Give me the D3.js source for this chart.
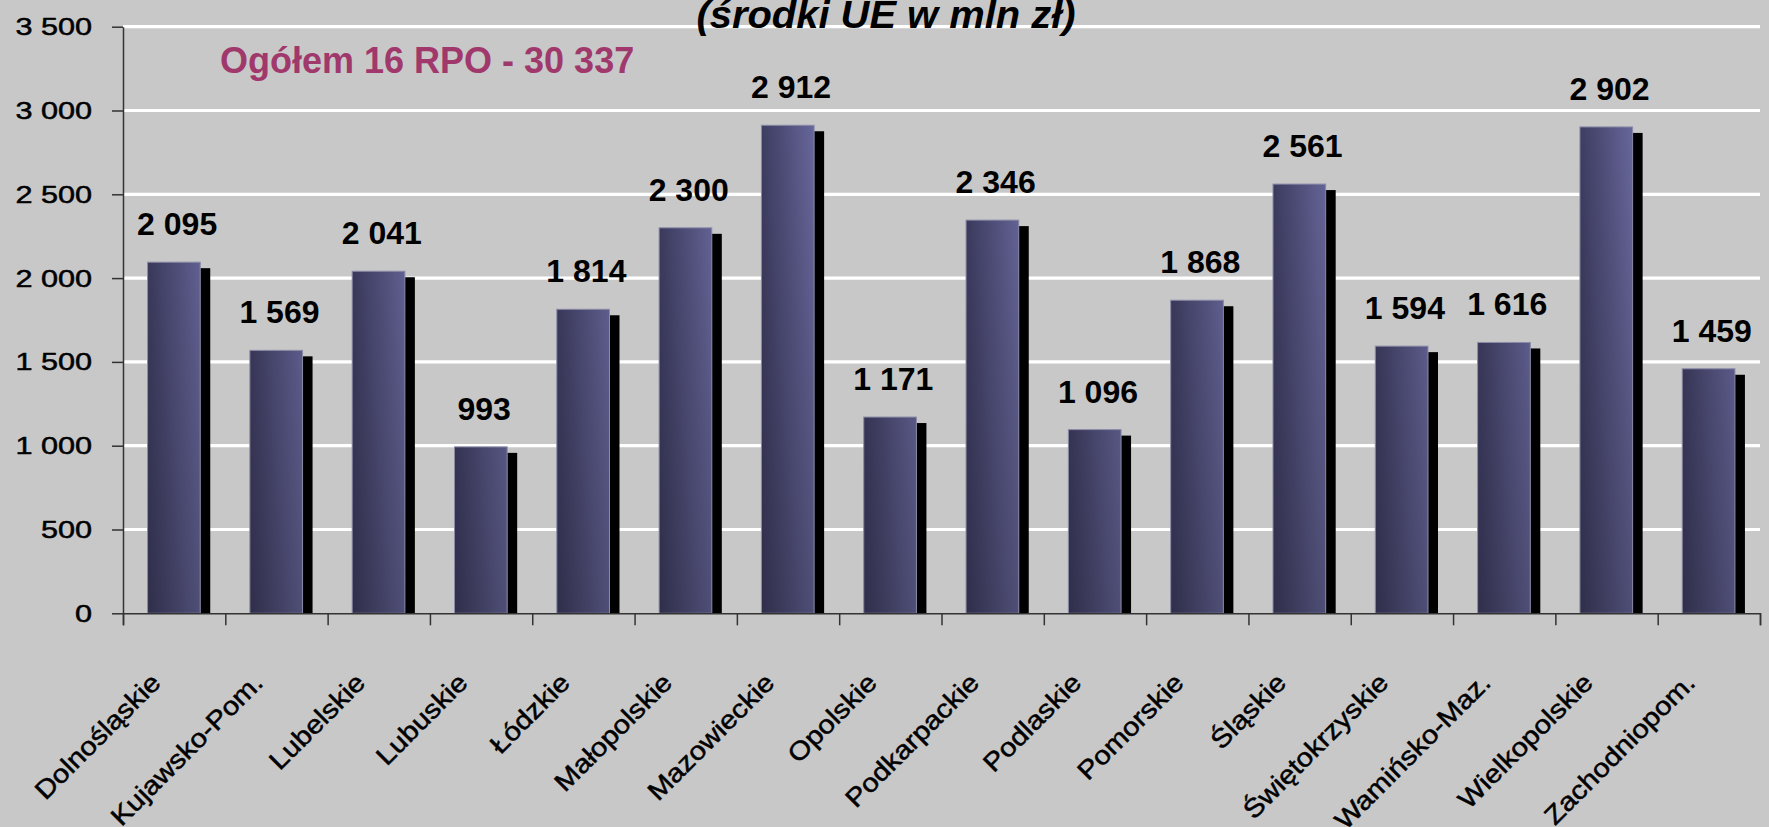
<!DOCTYPE html>
<html lang="pl">
<head>
    <meta charset="utf-8">
    <title>RPO - środki UE</title>
    <style>
        body {
            margin: 0;
            background-color: #c8c8c8;
            font-family: "Liberation Sans", Arial, sans-serif;
        }
        .chart {
            display: block;
        }
    </style>
</head>
<body>
<svg class="chart"></svg>
<script src="https://d3js.org/d3.v7.min.js"></script>
<script>
    // regions (labels as on the original slide) and EU funds in mln zł
    const regions = ["Dolnośląskie", "Kujawsko-Pom.", "Lubelskie", "Lubuskie", "Łódzkie", "Małopolskie",
        "Mazowieckie", "Opolskie", "Podkarpackie", "Podlaskie", "Pomorskie", "Śląskie",
        "Świętokrzyskie", "Wamińsko-Maz.", "Wielkopolskie", "Zachodniopom."];
    const funds = [2095, 1569, 2041, 993, 1814, 2300, 2912, 1171, 2346, 1096, 1868, 2561, 1594, 1616, 2902, 1459];
    const yTicks = [0, 500, 1000, 1500, 2000, 2500, 3000, 3500];
    const title = "(środki UE w mln zł)";
    const totalNote = "Ogółem 16 RPO - 30 337";

    const chartWidth = 1769;
    const chartHeight = 827;
    const plotLeft = 123;
    const plotRight = 1760;
    const plotTop = 26.7;
    const plotBottom = 613.3;

    const pl = d3.formatLocale({decimal: ",", thousands: " ", grouping: [3], currency: ["", " zł"]});
    const fmt = pl.format(",d");

    const svg = d3.select(".chart")
        .attr("width", chartWidth)
        .attr("height", chartHeight);

    const defs = svg.append("defs");
    const hGrad = defs.append("linearGradient")
        .attr("id", "barH")
        .attr("x1", 0).attr("y1", 0).attr("x2", 1).attr("y2", 0);
    hGrad.append("stop").attr("offset", "0%").attr("stop-color", "#403f65");
    hGrad.append("stop").attr("offset", "100%").attr("stop-color", "#6c6ba2");

    const vGrad = defs.append("linearGradient")
        .attr("id", "barV")
        .attr("gradientUnits", "userSpaceOnUse")
        .attr("x1", 0).attr("y1", plotTop).attr("x2", 0).attr("y2", plotBottom);
    vGrad.append("stop").attr("offset", "0%").attr("stop-color", "#000").attr("stop-opacity", 0);
    vGrad.append("stop").attr("offset", "100%").attr("stop-color", "#000").attr("stop-opacity", 0.27);

    const x = d3.scaleBand()
        .domain(regions)
        .range([plotLeft, plotRight]);
    const xEdge = d3.scaleLinear()
        .domain([0, regions.length])
        .range([plotLeft, plotRight]);
    const y = d3.scaleLinear()
        .domain([0, 3500])
        .range([plotBottom, plotTop]);

    const bw = x.bandwidth();
    const barOff = bw * 0.24;
    const barW = bw * 0.515;
    const shadowW = 11;
    const shadowDy = 6;

    // white gridlines
    svg.append("g")
        .selectAll("line")
        .data(yTicks.filter(function(d) { return d > 0; }))
        .enter().append("line")
        .attr("x1", plotLeft)
        .attr("x2", plotRight)
        .attr("y1", function(d) { return y(d); })
        .attr("y2", function(d) { return y(d); })
        .style("stroke", "#ffffff")
        .style("stroke-width", 3.2);

    const bar = svg.selectAll(".bar")
        .data(regions)
        .enter().append("g")
        .attr("class", "bar");

    // black shadow behind each bar
    bar.append("rect")
        .attr("x", function(d) { return x(d) + barOff + barW - 1; })
        .attr("y", function(d, i) { return y(funds[i]) + shadowDy; })
        .attr("width", shadowW)
        .attr("height", function(d, i) { return plotBottom - y(funds[i]) - shadowDy; })
        .style("fill", "#000");

    bar.append("rect")
        .attr("x", function(d) { return x(d) + barOff; })
        .attr("y", function(d, i) { return y(funds[i]); })
        .attr("width", barW)
        .attr("height", function(d, i) { return plotBottom - y(funds[i]); })
        .style("fill", "url(#barH)");

    bar.append("rect")
        .attr("x", function(d) { return x(d) + barOff; })
        .attr("y", function(d, i) { return y(funds[i]); })
        .attr("width", barW)
        .attr("height", function(d, i) { return plotBottom - y(funds[i]); })
        .style("fill", "url(#barV)")
        .style("stroke", "#8c8ca8")
        .style("stroke-width", 1);

    bar.append("text")
        .attr("x", function(d) { return x(d) + bw / 2 + 3; })
        .attr("y", function(d, i) { return y(funds[i]) - 27; })
        .attr("text-anchor", "middle")
        .style("font-size", "32px")
        .style("font-weight", "bold")
        .style("fill", "#000")
        .text(function(d, i) { return fmt(funds[i]); });

    // y axis
    const yAxis = svg.append("g")
        .attr("transform", "translate(" + plotLeft + ",0)")
        .call(d3.axisLeft(y).tickValues(yTicks).tickSize(11).tickSizeOuter(0).tickFormat(""));
    yAxis.selectAll("path, line").style("stroke", "#333").style("stroke-width", 1.5);

    svg.append("g")
        .selectAll("text")
        .data(yTicks)
        .enter().append("text")
        .attr("transform", function(d) { return "translate(92," + y(d) + ") scale(1.25,1)"; })
        .attr("dy", "0.35em")
        .attr("text-anchor", "end")
        .style("font-size", "24.5px")
        .style("fill", "#000")
        .style("stroke", "#000")
        .style("stroke-width", 0.5)
        .text(function(d) { return fmt(d); });

    // x axis with ticks between categories
    const xAxis = svg.append("g")
        .attr("transform", "translate(0," + plotBottom + ")")
        .call(d3.axisBottom(xEdge).ticks(regions.length).tickSize(12).tickSizeOuter(12).tickFormat(""));
    xAxis.selectAll("path, line").style("stroke", "#333").style("stroke-width", 1.5);

    svg.append("g")
        .selectAll("text")
        .data(regions)
        .enter().append("text")
        .attr("transform", function(d) {
            return "translate(" + (x(d) + bw / 2 - 12) + "," + (plotBottom + 71) + ") rotate(-45) scale(1.12,1)";
        })
        .attr("text-anchor", "end")
        .style("font-size", "26px")
        .style("fill", "#000")
        .style("stroke", "#000")
        .style("stroke-width", 0.5)
        .text(function(d) { return d; });

    svg.append("text")
        .attr("transform", "translate(886,28) scale(1.05,1)")
        .attr("text-anchor", "middle")
        .style("font-size", "38px")
        .style("font-weight", "bold")
        .style("font-style", "italic")
        .style("fill", "#000")
        .text(title);

    svg.append("text")
        .attr("x", 220)
        .attr("y", 73)
        .style("font-size", "36px")
        .style("font-weight", "bold")
        .style("fill", "#a0386c")
        .text(totalNote);
</script>
</body>
</html>
